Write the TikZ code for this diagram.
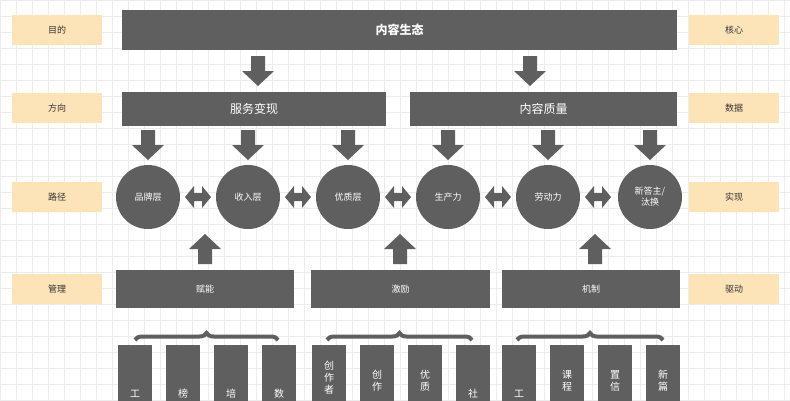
\documentclass[tikz,border=0pt]{standalone}
\usepackage{fontspec}
\setmainfont{Noto Sans CJK SC}
\usetikzlibrary{positioning,decorations.pathreplacing}
\definecolor{boxgray}{HTML}{5F5F5F}
\definecolor{tagorange}{HTML}{FDE3B8}
\tikzset{
  bar/.style = {fill=boxgray, text=white, inner sep=0pt, font=\large},
  tag/.style = {fill=tagorange, text=black!80, minimum width=90pt, minimum height=30pt, inner sep=0pt, font=\small},
  layer/.style = {circle, fill=boxgray, text=white, minimum size=64pt, inner sep=0pt, font=\small, align=center},
  item/.style = {fill=boxgray, text=white, minimum width=34pt, minimum height=80pt, inner sep=0pt, anchor=north, font=\normalsize, align=center},
  dnarrow/.pic = {\fill[boxgray] (-7,-15) -- (7,-15) -- (7,0) -- (16,0) -- (0,15) -- (-16,0) -- (-7,0) -- cycle;},
  uparrow/.pic = {\fill[boxgray] (-7,15) -- (7,15) -- (7,0) -- (16,0) -- (0,-15) -- (-16,0) -- (-7,0) -- cycle;},
  botharrow/.pic = {\fill[boxgray] (-13,0) -- (-4,-11) -- (-4,-4) -- (4,-4) -- (4,-11) -- (13,0) -- (4,11) -- (4,4) -- (-4,4) -- (-4,11) -- cycle;}
}
\begin{document}
\begin{tikzpicture}[x=1pt, y=-1pt]
\useasboundingbox (0,0) rectangle (790,400);
\clip (0,0) rectangle (790,400);
\fill[white] (0,0) rectangle (790,400);
\draw[gray!15, step=16pt] (0,-400) grid (790,400);

% side tags
\foreach \y/\l/\r [count=\i] in {30/目的/核心, 108/方向/数据, 197/路径/实现, 289/管理/驱动} {
  \node[tag] (l\i) at (57,\y) {\l};
  \node[tag] (r\i) at (734,\y) {\r};
}

% top
\node[bar, minimum width=555pt, minimum height=40pt, font=\large\bfseries] (eco) at (399.5,30) {内容生态};
\pic at (258,71) {dnarrow};
\pic at (530,71) {dnarrow};
\node[bar, minimum width=264pt, minimum height=34pt] (serve) at (254,109) {服务变现};
\node[bar, minimum width=267pt, minimum height=34pt] (qual) at (543.5,109) {内容质量};

% layers
\foreach \x/\t [count=\i] in {148/品牌层, 248/收入层, 348/优质层, 448/生产力, 548/劳动力, 650/{新答主/\\汰换}} {
  \pic at (\x,145) {dnarrow};
  \node[layer] (c\i) at (\x,197) {\t};
}
\foreach \x in {198,298,398,498,598}
  \pic at (\x,197) {botharrow};

% drivers
\pic at (205,249) {uparrow};
\pic at (400,249) {uparrow};
\pic at (595,249) {uparrow};
\node[bar, minimum width=178pt, minimum height=38pt, font=\small] (fu) at (205,289) {赋能};
\node[bar, minimum width=179pt, minimum height=38pt, font=\small] (ji) at (400.5,289) {激励};
\node[bar, minimum width=178pt, minimum height=38pt, font=\small] (zhi) at (591,289) {机制};

% braces
\foreach \a/\b in {135/278, 327/472, 517/663}
  \draw[boxgray, line width=4pt, decorate, decoration={brace, amplitude=7pt}] (\a,340) -- (\b,340);

% items
\foreach \x/\t [count=\i] in {135/工, 183/榜, 231/培, 279/数,
  329/创\\作\\者, 377/创\\作, 425/优\\质, 473/社,
  519/工, 567/课\\程, 615/置\\信, 663/新\\篇} {
  \node[item] (it\i) at (\x,345) {};
  \node[text=white, anchor=north, align=center, inner sep=0pt, font=\normalsize] at (\x,360) {\phantom{}};
}
\foreach \x/\t in {135/工, 183/榜, 231/培, 279/数, 473/社, 519/工}
  \node[text=white, inner sep=0pt] at (\x,394) {\t};
\foreach \x/\a/\b in {377/创/作, 425/优/质, 567/课/程, 615/置/信, 663/新/篇}
  \node[text=white, inner sep=0pt, align=center, anchor=north] at (\x,370) {\a\\\b};
\node[text=white, inner sep=0pt, align=center, anchor=north] at (329,361) {创\\作\\者};
\end{tikzpicture}
\end{document}
